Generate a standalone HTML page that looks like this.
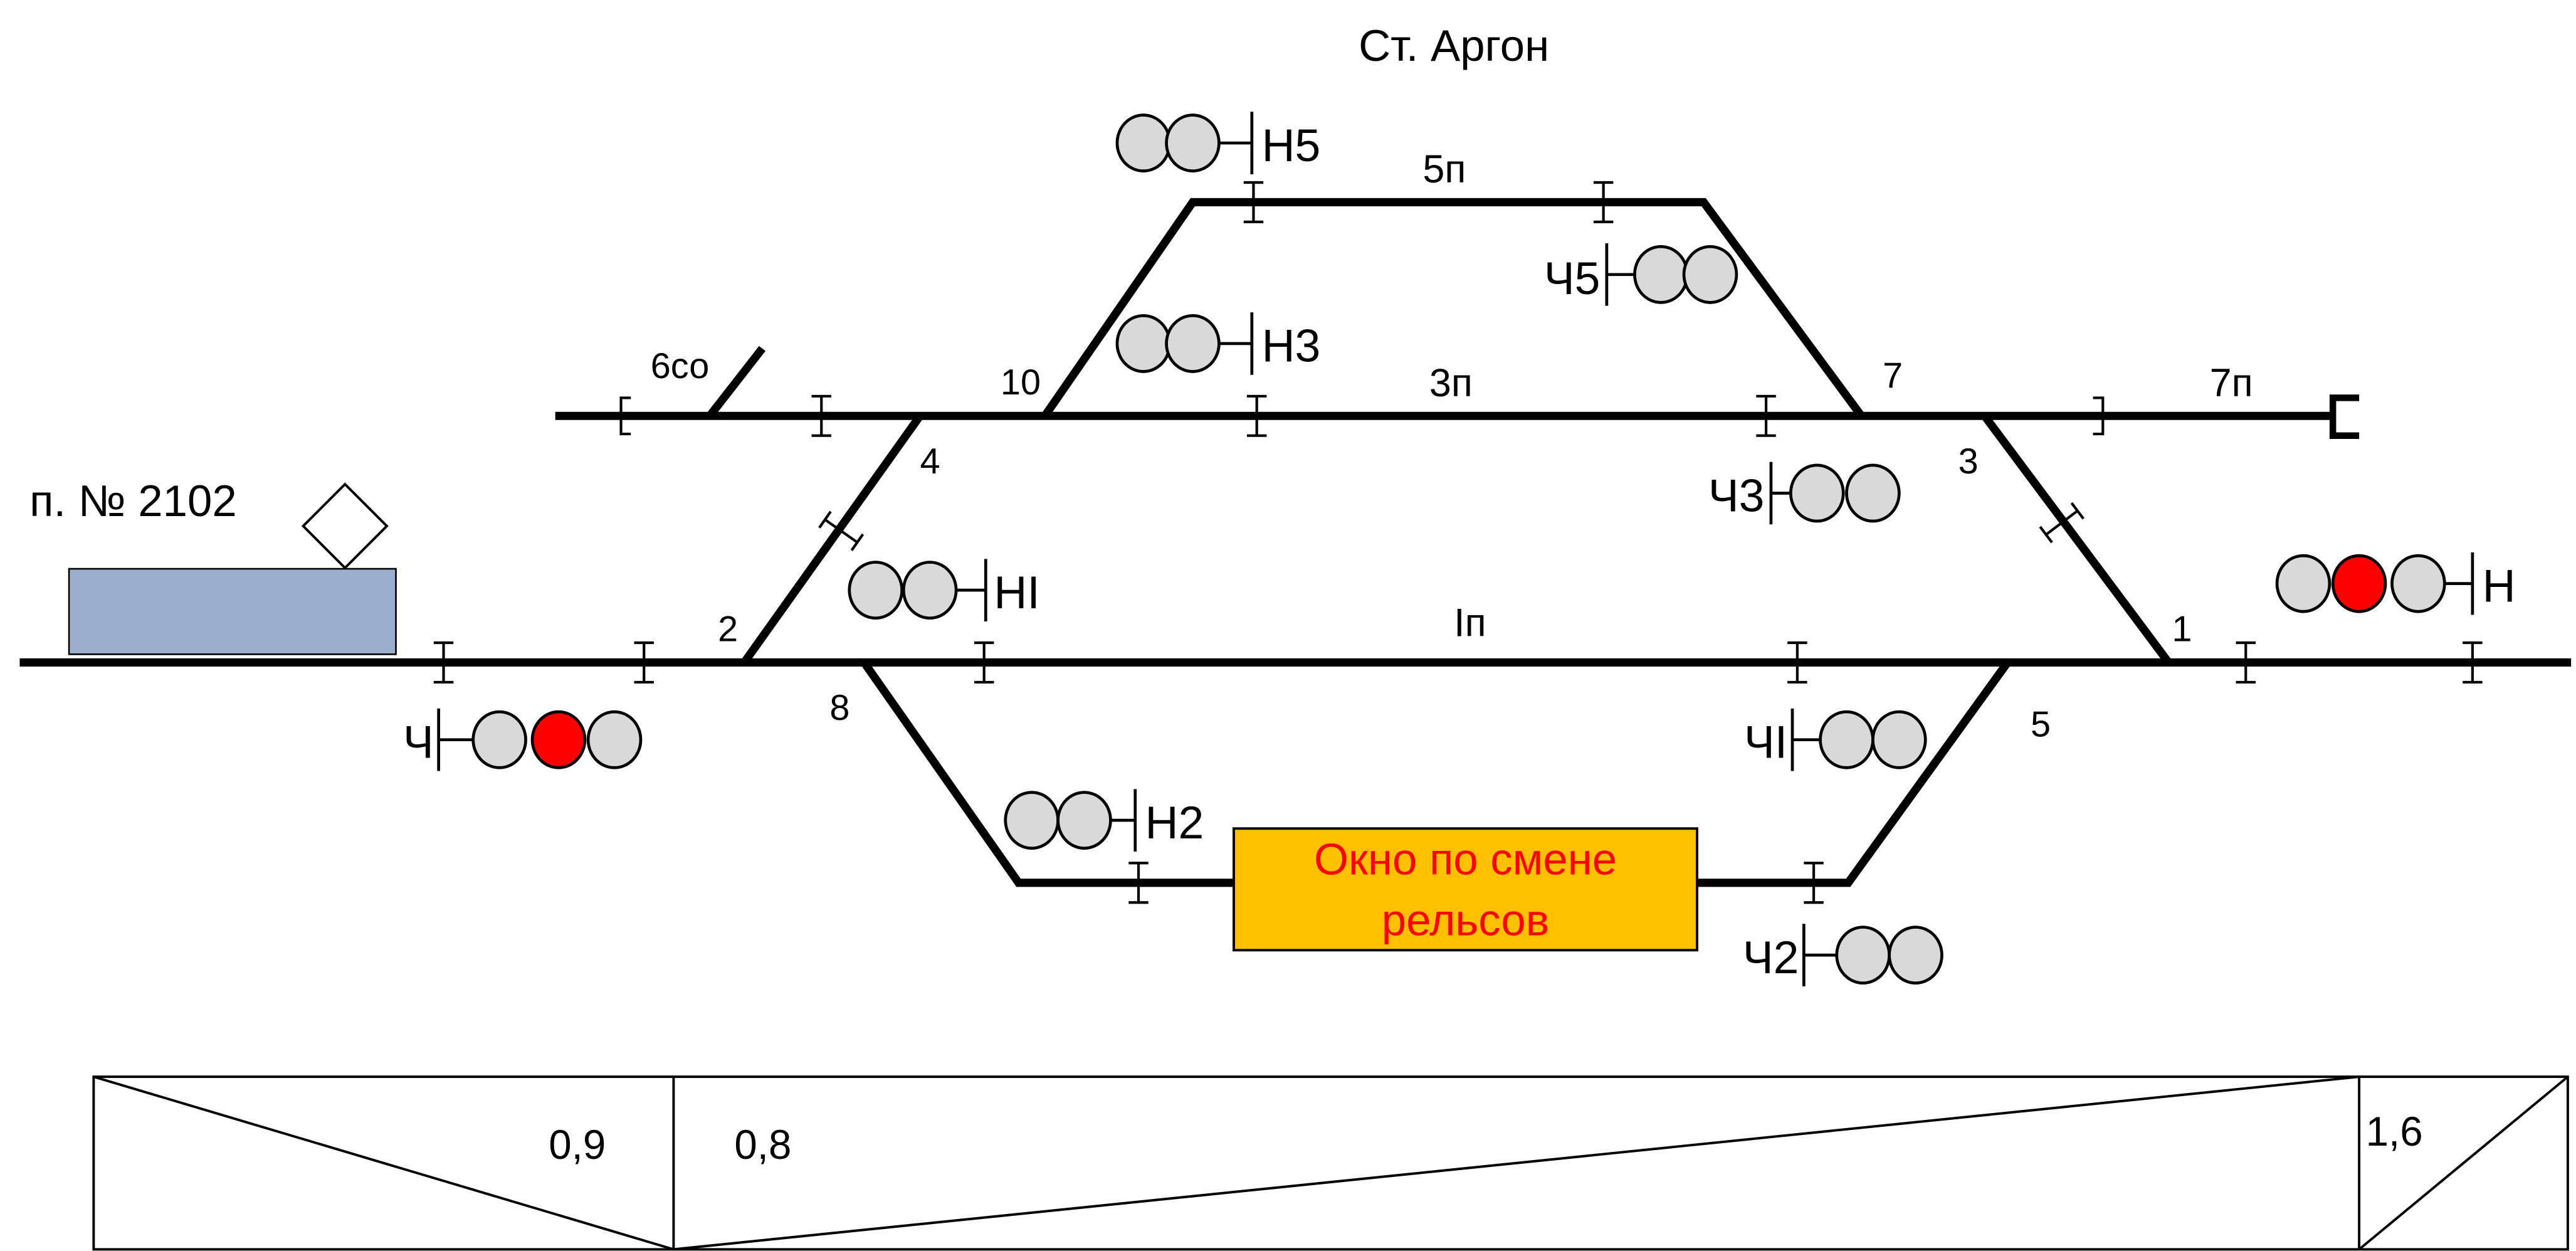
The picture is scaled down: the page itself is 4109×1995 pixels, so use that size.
<!DOCTYPE html>
<html><head><meta charset="utf-8"><style>html,body{margin:0;padding:0;background:#fff}svg{display:block}</style></head>
<body>
<svg width="4109" height="1995" viewBox="0 0 1568 761" preserveAspectRatio="none" xmlns="http://www.w3.org/2000/svg" font-family="Liberation Sans, sans-serif">
<defs>
<g id="j"><line x1="0" y1="-12" x2="0" y2="12" stroke="#000" stroke-width="1.6"/><line x1="-6" y1="-12" x2="6" y2="-12" stroke="#000" stroke-width="1.6"/><line x1="-6" y1="12" x2="6" y2="12" stroke="#000" stroke-width="1.6"/></g>
</defs>
<text x="885" y="37" font-size="27" text-anchor="middle">Ст. Аргон</text>
<g stroke="#000" stroke-width="5" fill="none" stroke-linejoin="miter">
<line x1="12" y1="403" x2="1565" y2="403"/>
<line x1="338" y1="253" x2="1420" y2="253"/>
<polyline points="636,253 726,123 1037,123 1133,253"/>
<line x1="453" y1="403" x2="560" y2="253"/>
<line x1="1208" y1="253" x2="1320" y2="403"/>
<polyline points="526,403 620,537 1125,537 1222,403"/>
<line x1="432" y1="253" x2="464" y2="212"/>
</g>
<g stroke="#000" stroke-width="4" fill="none"><polyline points="1436,242 1420,242 1420,265 1436,265"/></g>
<g stroke="#000" stroke-width="1.6" fill="none">
<polyline points="384,242 378,242 378,264 384,264"/>
<polyline points="1274,242 1280,242 1280,264 1274,264"/>
</g>
<use href="#j" x="270" y="403"/><use href="#j" x="392" y="403"/><use href="#j" x="599" y="403"/><use href="#j" x="1094" y="403"/><use href="#j" x="1367" y="403"/><use href="#j" x="1505" y="403"/>
<use href="#j" x="500" y="253"/><use href="#j" x="765" y="253"/><use href="#j" x="1075" y="253"/>
<use href="#j" x="763" y="123"/><use href="#j" x="976" y="123"/>
<use href="#j" x="693" y="537"/><use href="#j" x="1104" y="537"/>
<use href="#j" transform="translate(512,323) rotate(-55)"/>
<use href="#j" transform="translate(1255,318) rotate(53)"/>
<rect x="42" y="346" width="199" height="52" fill="#9AAFCF" stroke="#000" stroke-width="1"/>
<rect x="192" y="302" width="36" height="36" fill="#fff" stroke="#000" stroke-width="1.5" transform="rotate(45 210 320)"/>
<text x="18" y="314" font-size="27">п. № 2102</text>
<rect x="751" y="504" width="282" height="74" fill="#FFC000" stroke="#000" stroke-width="1.5"/>
<text x="892" y="532" font-size="27" fill="#FF0000" text-anchor="middle">Окно по смене</text>
<text x="892" y="569" font-size="27" fill="#FF0000" text-anchor="middle">рельсов</text>
<g stroke="#000" stroke-width="1.8" fill="#D9D9D9">
<ellipse cx="696" cy="87" rx="16" ry="17"/><ellipse cx="726" cy="87" rx="16" ry="17"/><line x1="742" y1="87" x2="762" y2="87"/><line x1="762" y1="68" x2="762" y2="106"/>
<ellipse cx="696" cy="209" rx="16" ry="17"/><ellipse cx="726" cy="209" rx="16" ry="17"/><line x1="742" y1="209" x2="762" y2="209"/><line x1="762" y1="190" x2="762" y2="228"/>
<line x1="978" y1="148" x2="978" y2="186"/><line x1="978" y1="167" x2="995" y2="167"/><ellipse cx="1011" cy="167" rx="16" ry="17"/><ellipse cx="1041" cy="167" rx="16" ry="17"/>
<line x1="1078" y1="281" x2="1078" y2="319"/><line x1="1078" y1="300" x2="1090" y2="300"/><ellipse cx="1106" cy="300" rx="16" ry="17"/><ellipse cx="1140" cy="300" rx="16" ry="17"/>
<ellipse cx="533" cy="359" rx="16" ry="17"/><ellipse cx="566" cy="359" rx="16" ry="17"/><line x1="582" y1="359" x2="600" y2="359"/><line x1="600" y1="340" x2="600" y2="378"/>
<ellipse cx="1402" cy="355" rx="16" ry="17"/><ellipse cx="1436" cy="355" rx="16" ry="17" fill="#FF0000"/><ellipse cx="1472" cy="355" rx="16" ry="17"/><line x1="1488" y1="355" x2="1505" y2="355"/><line x1="1505" y1="336" x2="1505" y2="374"/>
<line x1="267" y1="431" x2="267" y2="469"/><line x1="267" y1="450" x2="288" y2="450"/><ellipse cx="304" cy="450" rx="16" ry="17"/><ellipse cx="340" cy="450" rx="16" ry="17" fill="#FF0000"/><ellipse cx="374" cy="450" rx="16" ry="17"/>
<line x1="1091" y1="431" x2="1091" y2="469"/><line x1="1091" y1="450" x2="1108" y2="450"/><ellipse cx="1124" cy="450" rx="16" ry="17"/><ellipse cx="1156" cy="450" rx="16" ry="17"/>
<ellipse cx="628" cy="499" rx="16" ry="17"/><ellipse cx="660" cy="499" rx="16" ry="17"/><line x1="676" y1="499" x2="691" y2="499"/><line x1="691" y1="480" x2="691" y2="518"/>
<line x1="1098" y1="562" x2="1098" y2="600"/><line x1="1098" y1="581" x2="1118" y2="581"/><ellipse cx="1134" cy="581" rx="16" ry="17"/><ellipse cx="1166" cy="581" rx="16" ry="17"/>
</g>
<g font-size="28">
<text x="768" y="98">Н5</text><text x="768" y="220">Н3</text><text x="974" y="179" text-anchor="end">Ч5</text><text x="1074" y="311" text-anchor="end">Ч3</text>
<text x="605" y="370">НI</text><text x="1511" y="366">Н</text><text x="264" y="461" text-anchor="end">Ч</text><text x="1088" y="461" text-anchor="end">ЧI</text>
<text x="697" y="510">Н2</text><text x="1095" y="592" text-anchor="end">Ч2</text>
</g>
<g font-size="24">
<text x="866" y="111">5п</text><text x="870" y="241">3п</text><text x="1345" y="241">7п</text><text x="885" y="387">Iп</text>
</g>
<g font-size="22">
<text x="396" y="230">6со</text><text x="609" y="240">10</text><text x="560" y="288">4</text><text x="1146" y="236">7</text>
<text x="1192" y="288">3</text><text x="437" y="390">2</text><text x="1322" y="390">1</text><text x="505" y="438">8</text><text x="1236" y="448">5</text>
</g>
<g stroke="#000" stroke-width="1.5" fill="none">
<rect x="57" y="655" width="1506" height="105"/>
<line x1="410" y1="655" x2="410" y2="760"/><line x1="1436" y1="655" x2="1436" y2="760"/>
<line x1="57" y1="655" x2="410" y2="760"/><line x1="410" y1="760" x2="1436" y2="655"/><line x1="1436" y1="760" x2="1563" y2="655"/>
</g>
<g font-size="25"><text x="334" y="705">0,9</text><text x="447" y="705">0,8</text><text x="1440" y="697">1,6</text></g>
</svg>
</body></html>
